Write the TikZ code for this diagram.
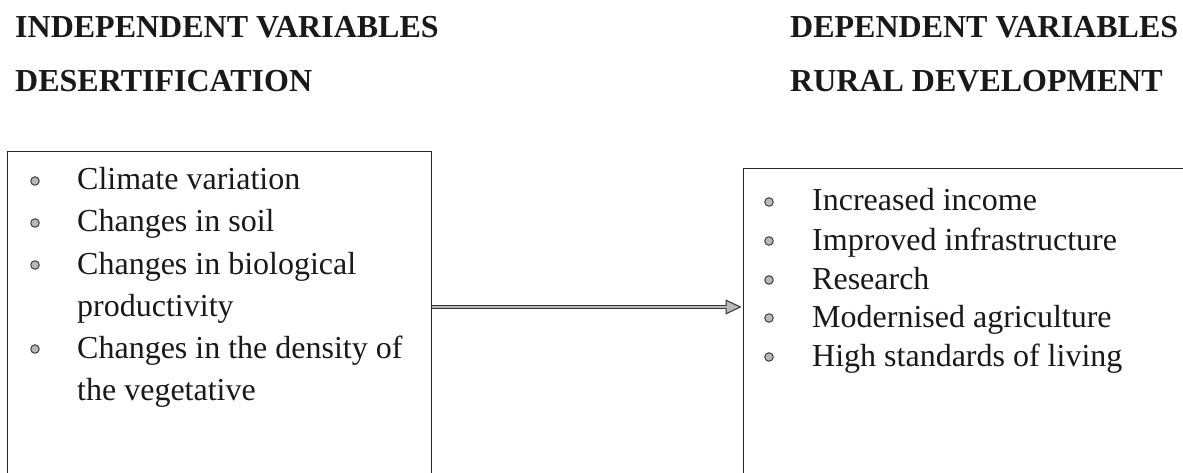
\documentclass[tikz,border=0pt]{standalone}
\usepackage{fontspec}
\setmainfont{Liberation Serif}
\usetikzlibrary{arrows.meta}
\tikzset{
  head/.style={anchor=base west, inner sep=0pt, font=\fontsize{32}{38}\selectfont\bfseries, text=black!90},
  item/.style={anchor=base west, inner sep=0pt, font=\fontsize{32}{38}\selectfont, text=black!90},
  bul/.style={circle, minimum size=8.5pt, inner sep=0pt, fill=gray!55, draw=black!75, line width=1pt},
  boxframe/.style={draw=black!85, line width=1.4pt, anchor=north west, inner sep=0pt},
  flow/.style={draw=black!80, line width=4.5pt,
    -{Triangle[length=16pt,width=15pt,fill=gray!55,line width=1pt]},
    postaction={draw=gray!55, line width=2.2pt, shorten >=14pt, -}},
}
\begin{document}
\begin{tikzpicture}[x=1pt,y=-1pt]
\useasboundingbox (0,0) rectangle (1183,473);
% headings
\node[head] (h1) at (15,38) {INDEPENDENT VARIABLES};
\node[head] (h2) at (15,92) {DESERTIFICATION};
\node[head] (h3) at (790,38) {DEPENDENT VARIABLES};
\node[head] (h4) at (790,92) {RURAL DEVELOPMENT};
% boxes (open at the bottom: they run past the lower edge)
\node[boxframe, minimum width=424pt, minimum height=340pt] (L) at (7,151) {};
\node[boxframe, minimum width=470pt, minimum height=330pt] (R) at (743,168) {};
% left list
\node[bul] (lb1) at (35,181) {};
\node[item] (l1) at (77,190) {Climate variation};
\node[bul] (lb2) at (35,223) {};
\node[item] (l2) at (77,232) {Changes in soil};
\node[bul] (lb3) at (35,265) {};
\node[item] (l3) at (77,274) {Changes in biological};
\node[item] (l4) at (77,316) {productivity};
\node[bul] (lb5) at (35,349) {};
\node[item] (l5) at (77,358) {Changes in the density of};
\node[item] (l6) at (77,400) {the vegetative};
% right list
\node[bul] (rb1) at (769,202) {};
\node[item] (r1) at (812,211) {Increased income};
\node[bul] (rb2) at (769,241) {};
\node[item] (r2) at (812,250) {Improved infrastructure};
\node[bul] (rb3) at (769,280) {};
\node[item] (r3) at (812,289) {Research};
\node[bul] (rb4) at (769,318) {};
\node[item] (r4) at (812,327) {Modernised agriculture};
\node[bul] (rb5) at (769,357) {};
\node[item] (r5) at (812,366) {High standards of living};
% arrow
\draw[flow] (L.east |- 0,307) -- ([xshift=-1.5pt]R.west |- 0,307);
\end{tikzpicture}
\end{document}
